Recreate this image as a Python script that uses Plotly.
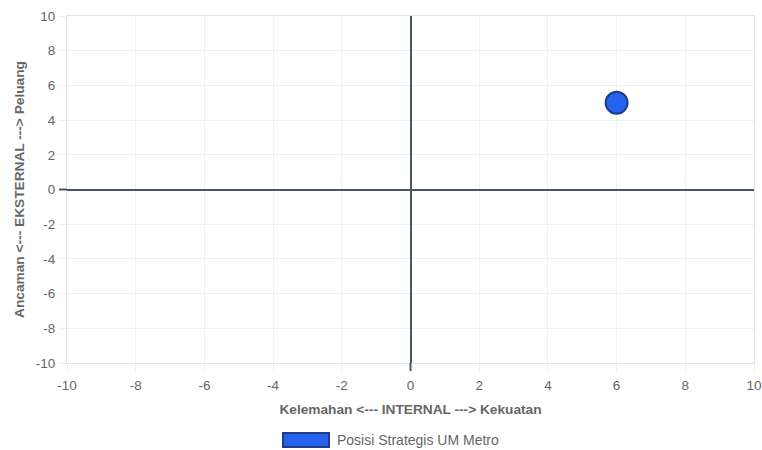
import plotly.graph_objects as go

# Data
series_name = "Posisi Strategis UM Metro"
internal_x = [6]
external_y = [5]
tick_vals = [-10, -8, -6, -4, -2, 0, 2, 4, 6, 8, 10]
tick_labels = ["-10", "-8", "-6", "-4", "-2", "0", "2", "4", "6", "8", "10"]
x_title = "Kelemahan <--- INTERNAL ---> Kekuatan"
y_title = "Ancaman <--- EKSTERNAL ---> Peluang"

FILL = "#2563eb"
EDGE = "#1e3a8a"
GRID = "#eef0f3"
ZERO = "#4a5568"
TXT = "#666666"
FONT = "Liberation Sans, Arial, sans-serif"

fig = go.Figure()
fig.add_trace(go.Scatter(
    x=internal_x, y=external_y, mode="markers", name=series_name,
    marker=dict(size=22, color=FILL, line=dict(color=EDGE, width=2)),
    showlegend=False, hoverinfo="x+y",
))

W, H = 762, 450
L, R, T, B = 67, 8, 16, 87
pw, ph = W - L - R, H - T - B

def px2x(px):
    return (px - L) / pw

def py2y(py):
    return (H - B - py) / ph

axis_common = dict(
    range=[-10, 10], tickvals=tick_vals, ticktext=tick_labels,
    showgrid=True, gridcolor=GRID, gridwidth=1,
    zeroline=True, zerolinecolor=ZERO, zerolinewidth=2,
    showline=True, linecolor="#e3e5e8", linewidth=1, mirror=True,
    ticks="outside", ticklen=8, tickcolor=GRID,
    tickfont=dict(family=FONT, size=13.5, color=TXT),
    automargin=False, fixedrange=True,
)

fig.update_layout(
    width=W, height=H,
    margin=dict(l=L, r=R, t=T, b=B, pad=0, autoexpand=False),
    paper_bgcolor="white", plot_bgcolor="white",
    font=dict(family=FONT, color=TXT),
    xaxis=dict(**axis_common, ticklabelstandoff=2,
               title=dict(text="<b>" + x_title + "</b>", font=dict(family=FONT, size=13.7, color=TXT), standoff=12)),
    yaxis=dict(**axis_common,
               title=dict(text="<b>" + y_title + "</b>", font=dict(family=FONT, size=13.7, color=TXT), standoff=7)),
    showlegend=False,
)

# dark tick marks at the zero lines (Chart.js style)
fig.add_shape(type="line", xref="x", yref="paper", x0=0, x1=0, y0=0, y1=-8 / ph,
              line=dict(color=ZERO, width=2))
fig.add_shape(type="line", xref="paper", yref="y", x0=0, x1=-8 / pw, y0=0, y1=0,
              line=dict(color=ZERO, width=2))

# Chart.js-style legend: wide box + label
fig.add_shape(type="rect", xref="paper", yref="paper",
              x0=px2x(283), x1=px2x(329), y0=py2y(447), y1=py2y(433),
              fillcolor=FILL, line=dict(color=EDGE, width=2))
fig.add_annotation(xref="paper", yref="paper", x=px2x(335), y=py2y(440),
                   text=series_name, showarrow=False, xanchor="left", yanchor="middle",
                   font=dict(family=FONT, size=14, color=TXT))

fig.write_html("out.html", config={"displayModeBar": False},
               post_script="document.body.style.margin='0';document.body.style.overflow='hidden';")
